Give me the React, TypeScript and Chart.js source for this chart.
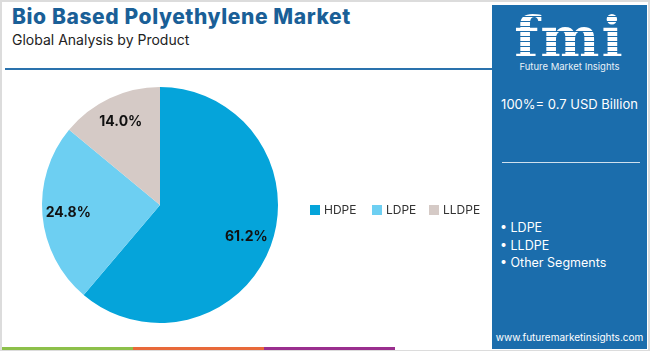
import React, { useEffect, useRef } from "react";
import { Chart, registerables } from "chart.js";

Chart.register(...registerables);

const categories = ["HDPE", "LDPE", "LLDPE"];
const shares = [61.2, 24.8, 14.0];
const sliceColors = ["#05a4da", "#6dcff2", "#d5cac6"];
const title = "Bio Based Polyethylene Market";
const subtitle = "Global Analysis by Product";
const totalLabel = "100%= 0.7 USD Billion";
const otherSegments = ["LDPE", "LLDPE", "Other Segments"];
const siteUrl = "www.futuremarketinsights.com";

const FONT = "Inter, 'Open Sans', sans-serif";

const labelPlugin = {
  id: "sliceLabels",
  afterDatasetsDraw(chart: any) {
    const ctx = chart.ctx;
    const meta = chart.getDatasetMeta(0);
    ctx.save();
    ctx.font = `bold 14px ${FONT}`;
    ctx.fillStyle = "#111";
    ctx.textAlign = "center";
    ctx.textBaseline = "middle";
    meta.data.forEach((arc: any, i: number) => {
      const { startAngle, endAngle, outerRadius, x, y } = arc.getProps(
        ["startAngle", "endAngle", "outerRadius", "x", "y"],
        true
      );
      const mid = (startAngle + endAngle) / 2;
      const r = outerRadius * 0.78;
      ctx.fillText(
        shares[i].toFixed(1) + "%",
        x + Math.cos(mid) * r,
        y + Math.sin(mid) * r
      );
    });
    ctx.restore();
  },
};

const legendX = [308, 370, 427];

export default function App() {
  const canvasRef = useRef<HTMLCanvasElement | null>(null);

  useEffect(() => {
    document.body.style.margin = "0";
    const chart = new Chart(canvasRef.current as HTMLCanvasElement, {
      type: "pie",
      data: {
        labels: categories,
        datasets: [
          {
            data: shares,
            backgroundColor: sliceColors,
            borderWidth: 0,
          },
        ],
      },
      options: {
        animation: false,
        responsive: false,
        maintainAspectRatio: false,
        layout: { padding: { left: 42, right: 212, top: 7, bottom: 22 } },
        plugins: {
          legend: { display: false },
          tooltip: { enabled: false },
        },
      },
      plugins: [labelPlugin],
    });
    return () => chart.destroy();
  }, []);

  const bottomColors = ["#8dc04a", "#e8693a", "#9a2f8e"];

  return (
    <div
      style={{
        position: "fixed",
        left: 0,
        top: 0,
        width: 650,
        height: 351,
        background: "#fff",
        overflow: "hidden",
        fontFamily: FONT,
        boxSizing: "border-box",
        border: "2px solid #dcdcdc",
        borderBottom: "1px solid #dcdcdc",
      }}
    >
      <div
        style={{
          position: "absolute",
          left: 10,
          top: 2,
          fontSize: 21,
          fontWeight: 800,
          color: "#1a5f97",
          whiteSpace: "nowrap",
          letterSpacing: 0.6,
        }}
      >
        {title}
      </div>
      <div
        style={{
          position: "absolute",
          left: 10,
          top: 29,
          fontSize: 14,
          color: "#222",
          whiteSpace: "nowrap",
        }}
      >
        {subtitle}
      </div>
      <div
        style={{
          position: "absolute",
          left: 3,
          top: 66,
          width: 490,
          height: 2,
          background: "#2a72ad",
        }}
      />
      <canvas
        ref={canvasRef}
        width={490}
        height={265}
        style={{ position: "absolute", left: -2, top: 78, width: 490, height: 265 }}
      />
      {categories.map((c, i) => (
        <div
          key={c}
          style={{
            position: "absolute",
            left: legendX[i],
            top: 200,
            display: "flex",
            alignItems: "center",
            fontSize: 12,
            color: "#333",
            whiteSpace: "nowrap",
          }}
        >
          <div style={{ width: 10, height: 10, background: sliceColors[i], marginRight: 4 }} />
          <span>{c}</span>
        </div>
      ))}
      <div
        style={{
          position: "absolute",
          left: 490,
          top: 3,
          width: 155,
          height: 344,
          background: "#1b6dac",
          color: "#fff",
        }}
      >
        <div
          style={{
            position: "absolute",
            left: 0,
            width: 155,
            top: 2,
            textAlign: "center",
            fontFamily: "'DejaVu Serif', serif",
            fontWeight: 900,
            fontSize: 56,
            lineHeight: "60px",
            letterSpacing: 2,
            backgroundImage:
              "repeating-linear-gradient(180deg, #ffffff 0px, #ffffff 4px, #1b6dac 4px, #1b6dac 5px)",
            WebkitBackgroundClip: "text",
            color: "transparent",
          }}
        >
          fmi
        </div>
        <div
          style={{
            position: "absolute",
            left: 0,
            width: 155,
            top: 56,
            textAlign: "center",
            fontSize: 9.5,
            color: "#e8f1f8",
          }}
        >
          Future Market Insights
        </div>
        <div
          style={{
            position: "absolute",
            left: 0,
            width: 155,
            top: 91,
            textAlign: "center",
            fontSize: 13,
          }}
        >
          {totalLabel}
        </div>
        <div
          style={{
            position: "absolute",
            left: 10,
            width: 138,
            top: 157,
            height: 1,
            background: "#cfe0ee",
          }}
        />
        <div style={{ position: "absolute", left: 8, top: 214, fontSize: 12.5, lineHeight: "17.5px" }}>
          {otherSegments.map((s) => (
            <div key={s}>• {s}</div>
          ))}
        </div>
        <div
          style={{
            position: "absolute",
            left: 0,
            width: 155,
            top: 326,
            textAlign: "center",
            fontSize: 10,
          }}
        >
          {siteUrl}
        </div>
      </div>
      <div style={{ position: "absolute", left: 0, top: 345, height: 3, width: 490, display: "flex" }}>
        {bottomColors.map((c) => (
          <div key={c} style={{ width: 131, height: 3, background: c }} />
        ))}
      </div>
    </div>
  );
}
